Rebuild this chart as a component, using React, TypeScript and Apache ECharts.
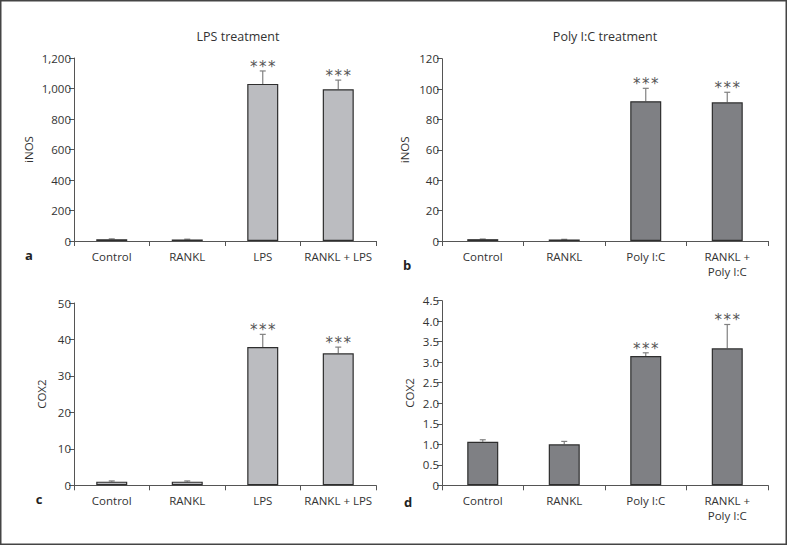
import React, { useEffect, useRef } from "react";
import * as echarts from "echarts";

const categoriesLPS = ["Control", "RANKL", "LPS", "RANKL + LPS"];
const categoriesPoly = ["Control", "RANKL", "Poly I:C", "RANKL +\nPoly I:C"];

const inosLPS = [12, 10, 1030, 995];
const inosLPSErr = [2, 2, 85, 60];
const inosPoly = [1.2, 1.0, 92, 91.3];
const inosPolyErr = [0.1, 0.1, 8.5, 6.6];
const cox2LPS = [1.0, 1.0, 37.9, 36.2];
const cox2LPSErr = [0.2, 0.2, 3.5, 1.7];
const cox2Poly = [1.06, 1.0, 3.15, 3.34];
const cox2PolyErr = [0.05, 0.07, 0.08, 0.58];
const stars = ["", "", "***", "***"];

const titles = ["LPS treatment", "Poly I:C treatment"];
const panelLetters = ["a", "b", "c", "d"];

const FONT = "Open Sans";
const LIGHT = "#bbbcc0";
const DARK = "#7f8084";

export default function App() {
  const ref = useRef<HTMLDivElement>(null);
  useEffect(() => {
    if (!ref.current) return;
    const chart = echarts.init(ref.current, undefined, { renderer: "svg" });

    const grids = [
      { left: 74, top: 58, width: 302, height: 183 },
      { left: 442, top: 58.7, width: 326, height: 182.3 },
      { left: 74, top: 303, width: 302, height: 182.3 },
      { left: 442, top: 300.7, width: 326, height: 184.6 },
    ];
    const panels = [
      { cats: categoriesLPS, vals: inosLPS, errs: inosLPSErr, name: "iNOS", max: 1200, interval: 200, color: LIGHT, nameGap: 40, fmt: (v: number) => v.toLocaleString("en-US") },
      { cats: categoriesPoly, vals: inosPoly, errs: inosPolyErr, name: "iNOS", max: 120, interval: 20, color: DARK, nameGap: 32, fmt: (v: number) => String(v) },
      { cats: categoriesLPS, vals: cox2LPS, errs: cox2LPSErr, name: "COX2", max: 50, interval: 10, color: LIGHT, nameGap: 27, fmt: (v: number) => String(v) },
      { cats: categoriesPoly, vals: cox2Poly, errs: cox2PolyErr, name: "COX2", max: 4.5, interval: 0.5, color: DARK, nameGap: 27, fmt: (v: number) => (v === 0 ? "0" : v.toFixed(1)) },
    ];

    const axisColor = "#555";
    const textColor = "#333";

    const xAxis = panels.map((p, i) => ({
      type: "category",
      gridIndex: i,
      data: p.cats,
      boundaryGap: true,
      axisLine: { lineStyle: { color: axisColor, width: 1 } },
      axisTick: { show: true, length: 5, interval: 0, lineStyle: { color: axisColor } },
      axisLabel: { color: textColor, fontFamily: FONT, fontSize: 11.5, interval: 0, margin: 8, lineHeight: 15 },
    }));
    const yAxis = panels.map((p, i) => ({
      type: "value",
      gridIndex: i,
      min: 0,
      max: p.max,
      interval: p.interval,
      name: p.name,
      nameLocation: "middle",
      nameGap: p.nameGap,
      nameTextStyle: { color: textColor, fontFamily: FONT, fontSize: 11.5 },
      splitLine: { show: false },
      axisLine: { show: true, lineStyle: { color: axisColor, width: 1 } },
      axisTick: { show: true, length: 5, lineStyle: { color: axisColor } },
      axisLabel: { color: textColor, fontFamily: FONT, fontSize: 11.5, margin: 3, formatter: p.fmt },
    }));

    const series: any[] = [];
    panels.forEach((p, i) => {
      series.push({
        type: "bar",
        xAxisIndex: i,
        yAxisIndex: i,
        data: p.vals,
        barWidth: 31,
        itemStyle: { color: p.color, borderColor: "#2e2e2e", borderWidth: 1.2 },
        z: 2,
      });
      series.push({
        type: "custom",
        xAxisIndex: i,
        yAxisIndex: i,
        data: p.vals.map((v, k) => [k, v, v + p.errs[k], k]),
        encode: { x: 0, y: [1, 2] },
        z: 1,
        renderItem: (params: any, api: any) => {
          const base = api.coord([api.value(0), api.value(1)]);
          const top = api.coord([api.value(0), api.value(2)]);
          const k = api.value(3);
          const children: any[] = [
            { type: "line", shape: { x1: base[0], y1: base[1], x2: top[0], y2: top[1] }, style: { stroke: "#808080", lineWidth: 1.2 } },
            { type: "line", shape: { x1: top[0] - 3, y1: top[1], x2: top[0] + 3, y2: top[1] }, style: { stroke: "#808080", lineWidth: 1.2 } },
          ];
          const s = stars[k];
          if (s) {
            const n = s.length;
            for (let j = 0; j < n; j++) {
              children.push({
                type: "text",
                x: top[0] + (j - (n - 1) / 2) * 9,
                y: top[1] - 4,
                style: { text: s[j], fill: "#555", font: `15px 'DejaVu Sans'`, align: "center", verticalAlign: "middle" },
              });
            }
          }
          return { type: "group", children };
        },
      });
    });

    const graphic: any[] = [
      { type: "rect", shape: { x: 0.75, y: 0.75, width: 785.5, height: 543.5 }, style: { fill: "none", stroke: "#444", lineWidth: 1.5 } },
      { type: "text", x: 238, y: 36, style: { text: titles[0], fill: textColor, font: `12.5px '${FONT}'`, align: "center", verticalAlign: "middle" } },
      { type: "text", x: 605, y: 36, style: { text: titles[1], fill: textColor, font: `12.5px '${FONT}'`, align: "center", verticalAlign: "middle" } },
      { type: "text", x: 29, y: 255, style: { text: panelLetters[0], fill: "#222", font: `bold 13px '${FONT}'`, align: "center", verticalAlign: "middle" } },
      { type: "text", x: 407, y: 265, style: { text: panelLetters[1], fill: "#222", font: `bold 13px '${FONT}'`, align: "center", verticalAlign: "middle" } },
      { type: "text", x: 39, y: 499, style: { text: panelLetters[2], fill: "#222", font: `bold 13px '${FONT}'`, align: "center", verticalAlign: "middle" } },
      { type: "text", x: 408, y: 502, style: { text: panelLetters[3], fill: "#222", font: `bold 13px '${FONT}'`, align: "center", verticalAlign: "middle" } },
    ];

    chart.setOption({
      animation: false,
      backgroundColor: "#ffffff",
      grid: grids.map((g) => ({ ...g, containLabel: false })),
      xAxis,
      yAxis,
      series,
      graphic,
    });
    return () => chart.dispose();
  }, []);
  return <div ref={ref} style={{ position: "fixed", left: 0, top: 0, width: 787, height: 545 }} />;
}
